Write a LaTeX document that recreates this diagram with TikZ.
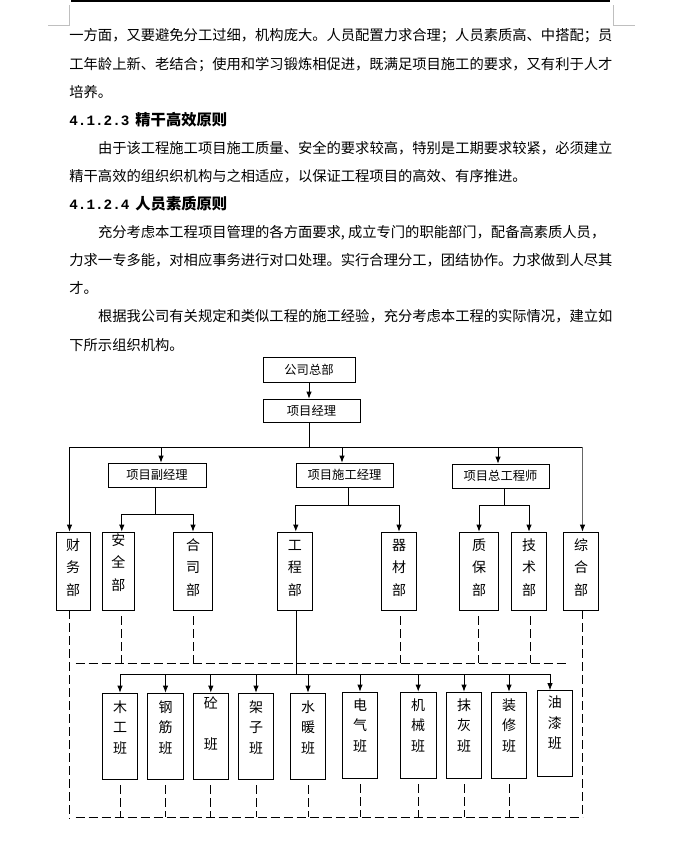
\documentclass[tikz,border=0pt]{standalone}
\usepackage{fontspec}
\setmainfont{Noto Sans CJK SC}
\newfontfamily\monofont{Liberation Mono}
\usetikzlibrary{arrows.meta}
\newcommand{\bodyfont}{\fontsize{14.29}{17}\selectfont}
\newcommand{\boxfont}{\fontsize{12.3}{14}\selectfont}
\newcommand{\headfont}{\fontsize{15.3}{18}\selectfont\bfseries}
\newcommand{\deptlabel}[4][2.5pt]{\parbox[c][78pt][t]{16pt}{\centering\fontsize{14}{22.5}\selectfont\vspace*{#1}#2\strut\\#3\strut\\#4\strut}}
\newcommand{\teamlabel}[4][5pt]{\parbox[c][86pt][t]{16pt}{\centering\fontsize{14}{20.5}\selectfont\vspace*{#1}#2\strut\\#3\strut\\#4\strut}}

\begin{document}
\begin{tikzpicture}[x=1pt,y=-1pt,>={Latex[length=7pt,width=5.5pt]},line width=0.8pt,
	body/.style={anchor=west,inner sep=0pt,font=\bodyfont,text height=12.6pt,text depth=1.7pt},
	mgr/.style={draw,inner sep=0pt,font=\boxfont,minimum height=24pt,minimum width=97pt},
	dept/.style={draw,inner sep=0pt,minimum height=78pt,minimum width=35pt},
	team/.style={draw,inner sep=0pt,minimum height=86pt,minimum width=35pt},
	dashline/.style={dash pattern=on 9pt off 4pt}]
		\useasboundingbox (0,0) rectangle (697,866);
		
		% page edge
		\draw[line width=1.6pt] (71,0.8) -- (610,0.8);
		\draw[black!25] (48,25) -- (69,25) -- (69,5);
		\draw[black!25] (635,25) -- (613,25) -- (613,5);
		
		% text
		\node[body] (l1) at (69,35.5) {一方面，又要避免分工过细，机构庞大。人员配置力求合理；人员素质高、中搭配；员};
		\node[body] (l2) at (69,63.6) {工年龄上新、老结合；使用和学习锻炼相促进，既满足项目施工的要求，又有利于人才};
		\node[body] (l3) at (69,91.7) {培养。};
		\node[body] (h1) at (69,119.8) {{\monofont\bfseries 4.1.2.3}\hspace{6pt}{\headfont 精干高效原则}};
		\node[body] (l4) at (97.6,147.9) {由于该工程施工项目施工质量、安全的要求较高，特别是工期要求较紧，必须建立};
		\node[body] (l5) at (69,176) {精干高效的组织织机构与之相适应，以保证工程项目的高效、有序推进。};
		\node[body] (h2) at (69,204.1) {{\monofont\bfseries 4.1.2.4}\hspace{6pt}{\headfont 人员素质原则}};
		\node[body] (l6) at (97.6,232.2) {充分考虑本工程项目管理的各方面要求\makebox[0.5em][l]{,}成立专门的职能部门，配备高素质人员，};
		\node[body] (l7) at (69,260.3) {力求一专多能，对相应事务进行对口处理。实行合理分工，团结协作。力求做到人尽其};
		\node[body] (l8) at (69,288.4) {才。};
		\node[body] (l9) at (97.6,316.5) {根据我公司有关规定和类似工程的施工经验，充分考虑本工程的实际情况，建立如};
		\node[body] (l10) at (69,344.6) {下所示组织机构。};
		
		% chart
		\node[mgr,minimum width=92pt,minimum height=25pt] (hq) at (309,369.5) {公司总部};
		\node[mgr,minimum height=23pt] (pm) at (311.5,410.5) {项目经理};
		\node[mgr,minimum width=98pt] (dpm) at (157,475) {项目副经理};
		\node[mgr] (cpm) at (344.5,475) {项目施工经理};
		\node[mgr] (ce) at (500.5,476) {项目总工程师};
		
		\node[dept,minimum width=34pt] (fin) at (73,571) {\deptlabel{财}{务}{部}};
		\node[dept,minimum width=31.5pt] (saf) at (118.3,571) {\deptlabel[-2.5pt]{安}{全}{部}};
		\node[dept,minimum width=39pt] (con) at (193,571) {\deptlabel{合}{司}{部}};
		\node[dept,minimum width=35.5pt] (eng) at (294.8,571) {\deptlabel{工}{程}{部}};
		\node[dept] (mat) at (399,571) {\deptlabel{器}{材}{部}};
		\node[dept,minimum width=39pt] (qa) at (479,571) {\deptlabel{质}{保}{部}};
		\node[dept] (tec) at (529,571) {\deptlabel{技}{术}{部}};
		\node[dept] (gen) at (581,571) {\deptlabel{综}{合}{部}};
		
		\node[team] (t1) at (120,736) {\teamlabel{木}{工}{班}};
		\node[team,minimum width=36pt] (t2) at (165.5,736) {\teamlabel{钢}{筋}{班}};
		\node[team] (t3) at (210.8,736) {\teamlabel[1pt]{砼}{}{班}};
		\node[team] (t4) at (256,736) {\teamlabel{架}{子}{班}};
		\node[team] (t5) at (308,736) {\teamlabel{水}{暖}{班}};
		\node[team] (t6) at (360,735) {\teamlabel[4pt]{电}{气}{班}};
		\node[team,minimum width=36pt] (t7) at (418.2,735) {\teamlabel[4pt]{机}{械}{班}};
		\node[team] (t8) at (464,735) {\teamlabel[4pt]{抹}{灰}{班}};
		\node[team] (t9) at (509,735) {\teamlabel[4pt]{装}{修}{班}};
		\node[team] (t10) at (554.8,733.5) {\teamlabel[3pt]{油}{漆}{班}};
		
		\coordinate (busL) at (69.5,447);
		\coordinate (busR) at (582.5,447);
		\coordinate (a1) at (161,447);
		\coordinate (a2) at (342,447);
		\coordinate (a3) at (498,447);
		\coordinate (s1) at (155,514);
		\coordinate (s2) at (348.5,505.5);
		\coordinate (s3) at (504.5,505.5);
		\coordinate (tb) at (296,674);
		\coordinate (tbL) at (120,674);
		\coordinate (tbR) at (550,674);
		\coordinate (dm1) at (75.5,663);
		\coordinate (dm2) at (568,663);
		\coordinate (db1) at (75.5,817);
		\coordinate (dr1) at (582.5,817);
		\coordinate (dl1) at (69.5,819);
		
		\draw[->] (hq.south) -- (hq.south |- pm.north);
		\draw (hq.south |- pm.south) -- (hq.south |- busL);
		\draw (busL) -- (busR);
		\draw[->] (busL) -- (busL |- fin.north);
		\draw[-{Latex[length=7pt,width=5.5pt,color=black]},black!60] (busR) -- (busR |- gen.north);
		\draw[->] (a1) -- (a1 |- dpm.north);
		\draw[->] (a2) -- (a2 |- cpm.north);
		\draw[->] (a3) -- (a3 |- ce.north);
		
		\draw (dpm.south -| s1) -- (s1);
		\draw[->] (s1) -| ([xshift=3.5pt]saf.north);
		\draw[->] (s1) -| (con.north);
		\draw (cpm.south -| s2) -- (s2);
		\draw[->] (s2) -| ([xshift=1pt]eng.north);
		\draw[->] (s2) -| (mat.north);
		\draw (ce.south -| s3) -- (s3);
		\draw[->] (s3) -| (qa.north);
		\draw[->] (s3) -| (tec.north);
		
		\draw (eng.south -| tb) -- (tb);
		\draw (tbL) -- (tbR);
		\foreach \t in {t1,t2,t3,t4,t5,t6,t7,t8,t9}
			\draw[->] (\t.north |- tb) -- (\t.north);
		\draw[->] (tbR) -- (tbR |- t10.north);
		
		% dashed links
		\draw[dashline] (busL |- fin.south) -- (dl1);
		\draw[dashline] (busR |- gen.south) -- (dr1);
		\draw[dashline] (dm1) -- (dm2);
		\draw[dashline] (db1) -- (dr1);
		\foreach \d/\s in {saf/3,con/0,mat/1,qa/-1,tec/1}
			\draw[dashline] ([xshift=\s pt,yshift=-6pt]\d.south) -- ++(0,47);
		\foreach \t in {t1,t2,t3,t4,t5,t6,t7,t8,t9}
			\draw[dashline] ([yshift=-6pt]\t.south) -- (\t.south |- db1);
	\end{tikzpicture}
\end{document}
